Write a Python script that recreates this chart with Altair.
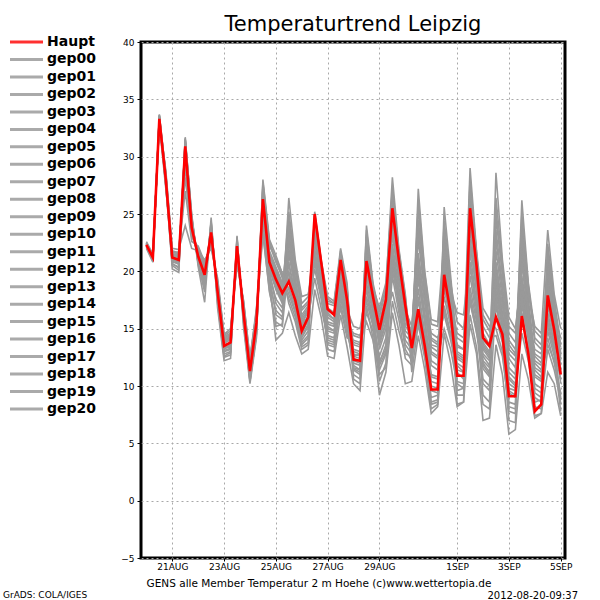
import altair as alt
import pandas as pd

# ---------------- data ----------------
times = pd.date_range("2012-08-20 00:00", periods=65, freq="6h").strftime("%Y-%m-%dT%H:%M:%SZ").tolist()

haupt = [22.3, 21.2, 33.3, 28.0, 21.2, 21.0, 30.9, 23.8, 21.3, 19.7, 23.4, 18.2, 13.5, 13.8, 22.2, 16.4,
         11.3, 15.5, 26.3, 20.8, 19.3, 18.1, 19.1, 17.5, 14.8, 16.0, 25.0, 20.8, 16.7, 16.2, 21.0, 17.5,
         12.3, 12.2, 20.9, 17.8, 14.9, 17.5, 25.5, 21.0, 17.0, 13.3, 16.7, 13.5, 9.7, 9.7, 19.7, 16.4,
         10.9, 10.9, 25.5, 20.5, 14.2, 13.5, 16.0, 14.5, 9.1, 9.1, 16.1, 12.8, 7.8, 8.4, 17.9, 14.9, 11.0]

gep00 = [22.4, 21.1, 33.5, 27.6, 21.0, 20.8, 31.2, 24.2, 21.0, 19.4, 23.8, 18.0, 13.2, 13.6, 22.4, 16.2,
         11.0, 15.2, 26.8, 21.2, 19.6, 18.4, 19.8, 17.2, 14.5, 15.8, 24.6, 20.2, 16.4, 15.8, 20.5, 17.0,
         12.8, 12.6, 21.6, 18.0, 14.2, 16.8, 24.8, 20.2, 16.0, 13.8, 18.5, 14.6, 11.0, 10.8, 21.5, 17.2,
         12.0, 11.6, 23.8, 19.0, 13.2, 12.4, 19.0, 15.4, 10.8, 10.2, 17.5, 14.0, 10.2, 9.8, 19.5, 15.8, 12.4]
gep01 = [22.2, 21.3, 33.0, 28.3, 21.5, 21.3, 30.2, 23.5, 21.6, 20.2, 23.0, 18.6, 13.9, 14.2, 21.8, 16.8,
         11.8, 15.8, 25.6, 20.6, 18.8, 17.6, 23.5, 19.4, 15.6, 16.4, 23.8, 19.8, 14.8, 14.6, 19.2, 16.2,
         13.8, 13.6, 17.8, 15.6, 12.6, 14.2, 21.4, 17.8, 15.2, 14.6, 24.5, 19.2, 13.4, 13.0, 17.8, 15.2,
         13.6, 13.2, 20.4, 16.6, 11.5, 10.8, 24.6, 19.8, 14.0, 13.2, 18.2, 14.8, 12.0, 11.4, 15.6, 13.2, 10.6]
gep02 = [22.5, 21.0, 33.6, 28.5, 20.6, 20.4, 31.7, 24.6, 20.8, 18.8, 24.2, 17.6, 12.8, 13.0, 22.8, 15.9,
         10.4, 14.6, 27.6, 22.4, 20.8, 19.6, 18.0, 16.4, 14.0, 14.8, 25.2, 20.9, 17.2, 17.0, 21.8, 18.4,
         11.5, 11.2, 23.6, 18.8, 15.6, 17.8, 27.4, 21.6, 17.6, 12.4, 16.2, 13.2, 9.0, 9.2, 23.2, 18.4,
         12.4, 12.0, 28.2, 21.4, 15.8, 14.8, 17.2, 14.2, 9.4, 9.0, 21.8, 16.2, 11.6, 11.2, 14.2, 12.0, 9.4]
gep03 = [22.0, 21.4, 32.8, 27.2, 21.8, 21.6, 29.5, 23.0, 22.0, 20.6, 22.6, 19.0, 14.2, 14.5, 21.2, 17.2,
         12.2, 16.6, 24.2, 19.0, 16.6, 16.0, 22.0, 18.6, 15.2, 16.8, 21.5, 18.2, 15.0, 14.8, 17.6, 15.4,
         14.6, 14.4, 16.4, 14.8, 11.4, 12.8, 19.6, 16.4, 13.6, 12.8, 22.8, 18.0, 14.6, 14.2, 16.2, 14.0,
         11.2, 10.6, 18.0, 15.0, 12.6, 11.8, 21.8, 17.6, 12.4, 11.6, 24.2, 18.6, 13.8, 13.2, 17.6, 14.6, 13.0]
gep04 = [22.3, 21.2, 33.4, 28.1, 21.1, 21.1, 30.8, 23.6, 21.2, 19.8, 23.3, 18.3, 13.6, 13.7, 22.1, 16.5,
         11.4, 15.6, 26.0, 20.6, 19.0, 17.8, 19.4, 17.8, 15.0, 16.2, 24.2, 20.4, 16.8, 16.4, 20.8, 17.6,
         12.6, 12.4, 20.2, 17.2, 15.2, 17.4, 23.6, 19.6, 16.4, 13.6, 20.2, 16.0, 10.4, 10.2, 18.6, 15.6,
         9.6, 9.8, 22.4, 18.2, 12.8, 12.2, 18.4, 15.0, 8.6, 8.4, 19.2, 15.6, 9.4, 9.0, 21.2, 16.8, 12.8]
gep05 = [22.6, 21.5, 33.2, 28.8, 22.0, 21.9, 24.0, 22.0, 21.8, 21.0, 22.0, 19.4, 14.5, 15.0, 20.6, 17.4,
         12.4, 16.4, 23.2, 18.4, 15.2, 15.4, 24.6, 20.4, 16.8, 17.4, 20.2, 17.6, 13.8, 13.6, 18.4, 15.0,
         13.2, 13.0, 19.0, 16.4, 13.8, 15.6, 18.2, 15.8, 12.4, 11.8, 26.2, 19.8, 15.4, 15.2, 20.4, 17.6,
         14.6, 14.2, 17.2, 14.8, 10.2, 9.6, 26.4, 20.6, 15.2, 14.6, 20.6, 16.2, 11.4, 10.8, 13.6, 12.2, 11.6]
gep06 = [22.1, 20.9, 33.7, 27.9, 20.2, 19.9, 31.5, 25.0, 20.4, 17.3, 24.7, 16.8, 12.2, 12.4, 23.1, 15.2,
         10.2, 14.2, 28.0, 22.8, 21.4, 19.8, 17.2, 15.6, 13.2, 13.6, 25.0, 21.0, 17.8, 17.4, 22.0, 19.0,
         10.6, 10.2, 24.0, 19.0, 16.4, 18.6, 28.2, 22.0, 18.0, 11.2, 15.4, 12.4, 8.0, 8.4, 25.6, 19.6,
         13.4, 13.2, 29.0, 21.8, 16.8, 15.8, 15.0, 13.0, 7.8, 7.6, 23.8, 17.6, 12.6, 12.0, 16.4, 13.8, 8.4]
gep07 = [22.3, 21.3, 33.1, 28.0, 21.4, 21.2, 30.4, 23.9, 21.5, 20.0, 23.1, 18.4, 13.8, 14.0, 22.0, 16.6,
         11.6, 15.4, 25.2, 20.2, 18.4, 17.2, 21.4, 18.8, 16.2, 17.0, 22.6, 19.0, 14.0, 13.8, 18.0, 15.8,
         11.0, 10.6, 22.6, 18.4, 14.6, 16.4, 26.0, 20.6, 16.6, 15.2, 21.6, 17.4, 12.2, 11.8, 24.4, 19.0,
         15.6, 15.0, 19.6, 16.0, 9.2, 8.6, 22.8, 18.2, 11.6, 11.0, 26.2, 19.0, 14.8, 14.2, 20.0, 16.4, 14.2]
gep08 = [22.4, 21.0, 33.5, 28.4, 20.9, 20.6, 31.4, 24.4, 20.9, 19.0, 24.0, 17.8, 13.0, 13.2, 22.6, 16.0,
         10.8, 14.8, 27.2, 21.8, 20.4, 19.0, 20.6, 18.2, 13.8, 14.4, 24.0, 20.6, 16.0, 15.6, 21.2, 17.8,
         12.0, 11.8, 22.0, 17.6, 13.2, 15.0, 25.8, 21.2, 17.2, 14.0, 17.4, 14.2, 9.6, 9.4, 20.2, 16.6,
         8.4, 8.6, 26.6, 21.0, 14.6, 13.6, 16.8, 14.6, 10.2, 9.8, 16.4, 13.2, 7.4, 7.6, 18.6, 15.2, 10.2]
gep09 = [22.2, 21.1, 33.2, 27.8, 21.3, 21.4, 28.2, 23.2, 21.9, 20.3, 22.8, 18.8, 14.0, 14.3, 21.6, 17.0,
         12.0, 16.2, 24.6, 19.4, 14.0, 14.6, 16.4, 14.4, 12.8, 13.2, 18.4, 16.0, 12.6, 12.4, 16.2, 13.4,
         10.2, 9.6, 17.0, 14.2, 9.2, 11.2, 16.4, 13.6, 10.2, 10.4, 14.4, 11.4, 7.6, 8.2, 14.6, 12.0,
         8.2, 8.6, 15.4, 12.8, 7.0, 7.2, 13.6, 11.0, 5.8, 6.2, 12.8, 10.6, 7.2, 7.6, 11.2, 10.2, 7.4]
gep10 = [22.3, 21.2, 33.3, 27.5, 21.2, 21.0, 30.6, 24.0, 21.1, 19.5, 23.6, 18.1, 13.4, 13.5, 22.3, 16.3,
         11.2, 15.0, 26.4, 21.0, 19.2, 18.0, 25.2, 20.6, 17.2, 17.8, 23.0, 19.6, 15.4, 15.2, 19.6, 16.6,
         15.2, 15.0, 18.4, 16.0, 12.0, 13.6, 22.4, 18.6, 14.8, 14.2, 25.6, 19.4, 14.0, 13.6, 18.8, 16.0,
         12.8, 12.4, 24.6, 19.8, 13.6, 12.8, 20.4, 16.4, 12.8, 12.2, 17.0, 14.2, 10.8, 10.4, 22.4, 17.6, 13.6]
gep11 = [22.5, 21.4, 33.0, 28.6, 21.7, 21.5, 29.8, 23.4, 21.7, 20.4, 22.5, 18.9, 14.3, 14.6, 21.0, 17.3,
         12.0, 16.0, 25.0, 19.8, 17.6, 16.8, 26.4, 21.0, 17.8, 18.0, 21.0, 18.8, 13.2, 13.0, 17.2, 14.6,
         12.4, 12.2, 18.6, 15.4, 10.4, 12.0, 20.8, 17.2, 14.0, 13.2, 27.2, 20.0, 15.8, 15.6, 22.6, 18.2,
         16.4, 16.2, 21.6, 17.4, 11.8, 11.0, 28.6, 21.0, 16.0, 15.0, 19.6, 15.8, 13.2, 12.8, 16.0, 13.6, 12.2]
gep12 = [22.0, 20.8, 33.6, 27.4, 20.5, 20.1, 31.6, 24.8, 20.6, 18.2, 24.4, 17.2, 12.5, 12.7, 23.0, 15.5,
         10.6, 14.4, 27.8, 22.6, 21.0, 19.4, 17.6, 16.0, 13.4, 13.8, 24.4, 20.8, 17.6, 17.2, 21.6, 18.6,
         11.8, 11.4, 23.2, 18.6, 16.8, 19.0, 27.0, 21.8, 17.8, 13.0, 15.8, 12.8, 8.6, 8.8, 22.0, 17.8,
         10.4, 10.2, 27.8, 21.6, 15.2, 14.2, 14.4, 12.6, 8.2, 8.0, 22.6, 17.0, 12.2, 11.8, 15.2, 13.0, 9.0]
gep13 = [22.4, 21.3, 33.3, 28.2, 21.3, 21.1, 30.0, 23.7, 21.4, 19.9, 23.2, 18.5, 13.7, 14.1, 21.9, 16.7,
         11.4, 15.6, 25.8, 20.4, 18.6, 17.4, 22.6, 19.0, 15.8, 16.6, 22.0, 18.6, 15.6, 15.4, 19.8, 16.8,
         13.6, 13.4, 19.6, 16.8, 13.6, 15.4, 23.2, 19.2, 15.8, 14.8, 19.2, 15.8, 11.8, 11.4, 19.4, 16.2,
         14.2, 13.8, 22.8, 18.6, 12.0, 11.2, 19.8, 16.0, 11.2, 10.6, 21.2, 16.6, 9.8, 9.4, 18.2, 15.0, 11.8]
gep14 = [22.2, 21.0, 33.4, 27.7, 20.8, 20.7, 31.3, 24.3, 21.0, 19.2, 23.9, 17.9, 13.1, 13.3, 22.5, 16.1,
         11.0, 15.0, 26.6, 21.4, 20.0, 18.8, 18.6, 17.0, 14.2, 15.2, 25.0, 20.8, 16.6, 16.2, 20.2, 17.4,
         12.2, 12.0, 21.0, 17.6, 15.0, 17.2, 24.2, 20.0, 16.8, 13.4, 17.8, 14.4, 10.0, 9.8, 19.0, 15.8,
         11.4, 11.2, 25.0, 20.2, 13.8, 13.0, 18.0, 15.2, 9.8, 9.6, 18.8, 15.0, 8.6, 8.8, 20.6, 16.2, 11.4]
gep15 = [22.3, 21.2, 32.9, 28.3, 21.6, 21.7, 27.0, 22.6, 22.2, 20.8, 22.2, 19.2, 14.4, 14.8, 20.8, 17.5,
         12.4, 16.8, 23.4, 18.2, 15.6, 15.2, 20.8, 17.6, 15.4, 16.0, 19.4, 16.8, 14.2, 14.0, 16.8, 14.2,
         14.0, 13.8, 15.6, 14.0, 11.0, 11.6, 17.4, 14.8, 12.8, 12.6, 20.6, 16.4, 13.0, 12.6, 15.0, 13.2,
         10.2, 9.8, 16.2, 13.4, 8.4, 8.0, 17.6, 14.4, 10.6, 10.0, 14.6, 12.2, 9.0, 8.6, 13.2, 11.4, 8.8]
gep16 = [22.5, 21.1, 33.5, 28.0, 21.0, 20.9, 31.0, 24.1, 21.2, 19.6, 23.5, 18.2, 13.3, 13.6, 22.3, 16.4,
         11.2, 15.4, 26.2, 21.0, 19.8, 18.6, 24.0, 20.0, 16.6, 17.2, 23.4, 19.4, 15.2, 14.8, 18.8, 16.0,
         12.6, 12.8, 20.6, 17.0, 14.4, 16.0, 21.8, 18.4, 15.4, 15.0, 23.6, 18.6, 12.8, 12.4, 21.0, 17.4,
         13.0, 12.6, 18.6, 15.6, 10.6, 10.0, 23.6, 18.8, 13.2, 12.6, 25.0, 18.8, 14.2, 13.6, 19.0, 15.6, 13.4]
gep17 = [22.1, 21.3, 33.1, 27.9, 21.4, 21.3, 30.5, 23.6, 21.5, 20.1, 23.0, 18.6, 13.9, 14.2, 21.7, 16.9,
         11.6, 15.8, 25.4, 20.0, 17.2, 16.4, 21.8, 18.4, 15.0, 15.6, 20.8, 17.8, 14.4, 14.2, 18.6, 15.6,
         14.4, 14.2, 17.4, 15.2, 12.2, 13.2, 20.2, 17.0, 13.2, 12.2, 21.2, 17.2, 14.2, 13.8, 17.0, 14.6,
         11.8, 11.2, 17.6, 14.6, 12.2, 11.6, 20.8, 17.0, 13.6, 12.8, 23.2, 18.0, 15.2, 14.6, 23.6, 18.0, 15.0]
gep18 = [22.4, 21.2, 33.6, 28.5, 20.7, 20.3, 31.5, 24.7, 20.7, 18.6, 24.3, 17.4, 12.6, 12.9, 22.9, 15.7,
         10.4, 14.6, 27.4, 22.2, 21.2, 19.8, 18.4, 16.6, 13.6, 14.2, 24.8, 20.6, 17.4, 17.2, 21.4, 18.2,
         11.4, 11.0, 23.0, 18.6, 16.0, 18.4, 26.6, 21.4, 17.4, 12.0, 16.6, 13.8, 8.4, 8.6, 24.0, 18.8,
         11.0, 10.8, 27.2, 21.2, 16.2, 15.2, 16.0, 13.8, 7.0, 6.8, 20.8, 16.4, 11.0, 10.6, 14.8, 12.6, 7.8]
gep19 = [22.2, 21.4, 33.0, 28.1, 21.5, 21.5, 29.2, 23.3, 21.8, 20.5, 22.7, 18.7, 14.1, 14.4, 21.4, 17.1,
         11.8, 16.0, 24.8, 19.6, 16.2, 15.8, 23.0, 19.2, 16.0, 16.8, 21.2, 18.0, 13.6, 13.4, 17.8, 15.2,
         11.6, 11.4, 19.8, 16.6, 11.8, 13.0, 21.0, 17.6, 14.4, 13.8, 24.0, 18.8, 13.6, 13.4, 16.6, 14.4,
         12.6, 12.2, 20.8, 17.0, 14.0, 13.4, 25.4, 19.8, 14.6, 13.8, 19.0, 15.2, 12.8, 12.4, 17.0, 14.2, 12.6]
gep20 = [22.3, 21.0, 33.4, 28.2, 21.1, 20.8, 31.1, 24.0, 21.1, 19.4, 23.7, 18.0, 13.3, 13.4, 22.4, 16.2,
         10.8, 15.0, 26.8, 21.6, 20.2, 18.8, 20.0, 17.8, 14.4, 15.4, 23.6, 20.0, 16.2, 15.8, 20.0, 17.2,
         13.0, 12.8, 21.2, 17.4, 14.0, 16.2, 25.0, 20.4, 16.2, 14.4, 19.6, 15.4, 10.8, 10.6, 20.8, 17.0,
         9.2, 9.2, 24.2, 19.4, 13.4, 12.6, 19.4, 15.8, 9.6, 9.2, 17.8, 14.6, 8.2, 8.0, 21.8, 17.2, 11.2]

member_names = ["gep%02d" % k for k in range(21)]
member_values = [gep00, gep01, gep02, gep03, gep04, gep05, gep06, gep07, gep08, gep09, gep10,
                 gep11, gep12, gep13, gep14, gep15, gep16, gep17, gep18, gep19, gep20]
legend_names = ["Haupt"] + member_names

tick_dates = ["2012-08-21", "2012-08-23", "2012-08-25", "2012-08-27",
              "2012-08-29", "2012-09-01", "2012-09-03", "2012-09-05"]
tick_labels = ["21AUG", "23AUG", "25AUG", "27AUG", "29AUG", "1SEP", "3SEP", "5SEP"]
y_ticks = [-5, 0, 5, 10, 15, 20, 25, 30, 35, 40]

title_text = "Temperaturtrend Leipzig"
footer_text = "GENS alle Member Temperatur 2 m Hoehe (c)www.wettertopia.de"
stamp_text = "2012-08-20-09:37"
grads_text = "GrADS: COLA/IGES"

for s in member_values + [haupt]:
    assert len(s) == len(times)

# ---------------- tables ----------------
rows = []
for name, vals in zip(member_names, member_values):
    for t, v in zip(times, vals):
        rows.append({"t": t, "member": name, "v": v})
df_members = pd.DataFrame(rows)
df_haupt = pd.DataFrame({"t": times, "v": haupt})
df_legend = pd.DataFrame({"name": legend_names,
                          "kind": ["Haupt"] + ["gep"] * len(member_names)})

FONT = "DejaVu Sans"


def dt(s, h=0):
    y, m, d = (int(p) for p in s.split("-"))
    return alt.DateTime(year=y, month=m, date=d, hours=h, utc=True)


label_expr = ("[" + ",".join("'%s'" % l for l in tick_labels) + "][indexof(["
              + ",".join("'%s'" % d for d in tick_dates)
              + "], utcFormat(datum.value, '%Y-%m-%d'))]")

x_scale = alt.Scale(type="utc", domain=[dt("2012-08-19", 19), dt("2012-09-05", 4)], nice=False)
x_axis = alt.Axis(values=[dt(d) for d in tick_dates], labelExpr=label_expr, title=None,
                  grid=True, gridColor="#a8a8a8", gridDash=[2, 3], gridWidth=1,
                  domain=False, ticks=True, tickSize=3, tickColor="#000000",
                  labelFont=FONT, labelFontSize=9, labelColor="#000000", labelPadding=1,
                  labelFlush=False, labelOverlap=False)
y_scale = alt.Scale(domain=[-5, 40], nice=False, zero=False)
y_axis = alt.Axis(values=y_ticks, format="d", title=None,
                  grid=True, gridColor="#a8a8a8", gridDash=[2, 3], gridWidth=1,
                  domain=False, ticks=True, tickSize=4, tickColor="#000000",
                  labelFont=FONT, labelFontSize=9, labelColor="#000000", labelPadding=3)

gray = alt.Chart(df_members).mark_line(color="#999999", strokeWidth=1.6).encode(
    x=alt.X("t:T", scale=x_scale, axis=x_axis),
    y=alt.Y("v:Q", scale=y_scale, axis=y_axis),
    detail="member:N",
)
red = alt.Chart(df_haupt).mark_line(color="#ff0000", strokeWidth=2.6).encode(
    x=alt.X("t:T"),
    y=alt.Y("v:Q"),
)
main = alt.layer(gray, red)

leg_y = alt.Y("name:N", sort=legend_names,
              scale=alt.Scale(type="point", domain=legend_names, range=[0, 367], padding=0),
              axis=None)
leg_rule = alt.Chart(df_legend).mark_rule(strokeWidth=3).encode(
    y=leg_y,
    x=alt.value(-131), x2=alt.value(-98),
    color=alt.Color("kind:N", scale=alt.Scale(domain=["Haupt", "gep"], range=["#ff3030", "#aaaaaa"]),
                    legend=None),
)
leg_text = alt.Chart(df_legend).mark_text(align="left", baseline="middle", font=FONT,
                                          fontSize=14, fontWeight="bold", color="#000000").encode(
    y=leg_y, x=alt.value(-94), text="name:N",
)
legend = alt.layer(leg_rule, leg_text)


def note(text, x, y, size, align="center", baseline="alphabetic"):
    return alt.Chart(pd.DataFrame({"s": [text]})).mark_text(
        font=FONT, fontSize=size, align=align, baseline=baseline, color="#000000"
    ).encode(text="s:N", x=alt.value(x), y=alt.value(y))


notes = alt.layer(
    note(title_text, 212, -11, 21),
    note(footer_text, 178, 545, 10.5),
    note(stamp_text, 437, 557, 10, align="right"),
    note(grads_text, -138, 556, 9, align="left"),
)

chart = alt.layer(main, legend, notes).resolve_scale(y="independent").properties(
    width=424, height=516,
    padding={"left": 141, "top": 42, "right": 35, "bottom": 42},
    autosize=alt.AutoSizeParams(type="none"),
    background="#ffffff",
).configure_view(stroke="#000000", strokeWidth=3)

chart.save("out.html", embed_options={"renderer": "svg", "actions": False})
